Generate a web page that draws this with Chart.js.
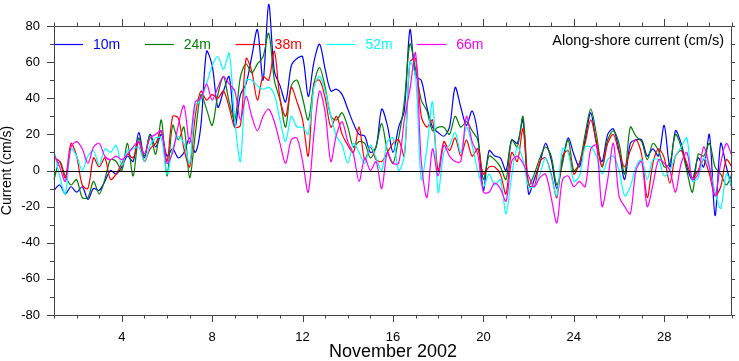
<!DOCTYPE html>
<html>
<head>
<meta charset="utf-8">
<script src="https://cdn.jsdelivr.net/npm/chart.js@4.4.1/dist/chart.umd.min.js"></script>
<style>
  html, body { margin: 0; padding: 0; background: #fff; }
  canvas { display: block; }
</style>
</head>
<body>
<canvas id="current" width="739" height="361"></canvas>
<script>
// time axis: 6-hourly samples, November 1 to December 1 (day of month)
var startDay = 1;
var stepDay = 0.25;

var seriesNames = ['10m', '24m', '38m', '52m', '66m'];
var seriesColors = ['#0000ff', '#008000', '#ff0000', '#00ffff', '#ff00ff'];

var xTickLabels = [4, 8, 12, 16, 20, 24, 28];
var yTickLabels = [-80, -60, -40, -20, 0, 20, 40, 60, 80];

// along-shore current, cm/s
var v10 = [
  -11, -8, -13, -9,   -12, -9, -16, -10,  -11, -6, 0, -2,    2, 8, 5, 21,
  7, 20, 13, 20,      8, 12, 7, 10,       18, 10, 25, 66,    58, 35, 44, 52,
  24, 42, 48, 63,     78, 50, 92, 55,     47, 38, 58, 62,    63, 41, 60, 70,
  56, 44, 45, 42,     34, 26, 20, 19,     10, 13, 34, 25,    10, 24, 33, 78,
  52, 50, 35, 24,     21, 19, 24, 46,     35, 25, 33, 20,    -11, 11, 8, 7,
  0, 17, 15, 28,      -13, -5, 4, 15,     6, -10, 5, 18,     9, 2, 17, 32,
  15, 5, 20, 23,      11, -5, 15, 17,     17, 8, 12, 8,      25, 2, 22, 15,
  2, -5, 7, 2,        20, -25, 15, 2,     -10
];
var v24 = [
  -5, 5, -3, -8,      -5, -15, -15, -6,   -13, -5, 6, 5,     0, 15, -3, 18,
  8, 20, 9, 28,       -3, 25, 17, 24,     -4, 20, 42, 34,    25, 42, 52, 38,
  28, 52, 59, 54,     59, 63, 76, 50,     39, 24, 47, 50,    40, 28, 48, 57,
  46, 30, 28, 32,     24, 13, 16, 15,     7, 13, 26, 11,     4, 18, 38, 70,
  56, 39, 33, 22,     24, 24, 20, 30,     24, 27, 22, 17,    -5, 8, 6, 2,
  -5, 17, 13, 30,     -8, -2, 7, 13,      8, -8, 4, 17,      0, 4, 20, 34,
  20, 2, 17, 22,      15, -2, 24, 19,     16, 6, 15, 11,     2, 4, 20, 13,
  0, -12, 9, 8,       15, 2, -2, -8,      -2
];
var v38 = [
  7, 5, -4, 15,       8, -8, -10, 7,      2, 7, -5, -2,      4, 9, 7, 16,
  5, 12, 15, 22,      5, 30, 29, 12,      2, 30, 44, 39,     42, 40, 44, 35,
  24, 25, 62, 55,     39, 52, 50, 66,     40, 30, 46, 38,    28, 8, 48, 50,
  40, 24, 30, 20,     14, 10, 24, 6,      13, 6, 5, 10,      15, 17, 8, 60,
  62, 30, 24, 28,     0, 16, 11, 18,      8, 17, 8, 12,      -2, 2, 2, -2,
  -13, 10, 5, 23,     -8, -9, 5, 7,       -2, -15, 8, 11,    -2, 4, 15, 28,
  16, 2, 15, 20,      10, 2, 11, 17,      9, -15, 4, 12,     7, -7, 8, 11,
  4, -4, 0, 6,        -2, -14, -9, 6,     2
];
var v52 = [
  11, -3, -13, 12,    8, 0, 8, 11,        3, 12, 10, 14,     3, 11, 12, 13,
  5, 14, 18, 18,      -2, 12, 19, 15,     4, 36, 39, 48,     58, 63, 56, 65,
  28, 5, 50, 50,      47, 45, 46, 42,     28, 16, 30, 24,    24, 20, 46, 52,
  44, 30, 19, 14,     4, 15, 10, 4,       14, 7, 0, 16,      18, 0, 8, 60,
  52, -5, 12, 38,     -12, 10, 14, 21,    10, 24, 14, 0,     -9, -2, -8, -5,
  -24, -3, 13, 6,     -9, -9, -2, 7,      -3, -14, 12, 10,   -6, -3, 13, 13,
  8, -2, 6, 8,        0, -14, -9, 2,      6, -5, 6, 6,       -3, 0, 8, 13,
  18, -6, -4, 7,      2, -12, -21, -2,    -9
];
var v66 = [
  9, 2, -6, 13,       16, 12, 4, 13,      15, 8, 6, 8,       6, 9, 13, 16,
  9, 18, 20, 22,      4, 10, 25, 36,      15, 38, 40, 48,    39, 46, 52, 48,
  44, 28, 41, 30,     22, 30, 34, 27,     15, 4, 17, 18,     5, -12, 20, 44,
  32, 5, 20, 27,      16, 9, -6, 7,       0, 5, -10, 10,     4, 4, 28, 45,
  65, 5, -15, 12,     -3, 14, 8, 5,       5, 30, 16, 9,      -12, -12, -7, -10,
  -17, 5, 8, 4,       -3, -9, -4, -2,     -15, -29, -5, -3,  -9, -6, -9, 12,
  14, -20, -5, 15,    -14, -20, -24, 0,   5, -20, -8, 6,     4, 0, -12, 4,
  10, -5, -2, 13,     2, -14, 4, 15,      8
];

var seriesValues = [v10, v24, v38, v52, v66];

var days = v10.map(function(_, i) { return startDay + i * stepDay; });

var FONT = "'Liberation Sans', Arial, Helvetica, sans-serif";

var decor = {
  id: 'decor',
  beforeDatasetsDraw: function(chart) {
    // legend across the top of the plot
    var ctx = chart.ctx, a = chart.chartArea;
    ctx.save();
    ctx.font = '14px ' + FONT;
    ctx.textBaseline = 'middle';
    ctx.textAlign = 'left';
    var ly = a.top + 18.5;
    for (var i = 0; i < seriesNames.length; i++) {
      var lx = a.left + i * 90.8;
      ctx.strokeStyle = seriesColors[i];
      ctx.lineWidth = 1.2;
      ctx.beginPath();
      ctx.moveTo(lx, ly);
      ctx.lineTo(lx + 29, ly);
      ctx.stroke();
      ctx.fillStyle = seriesColors[i];
      ctx.fillText(seriesNames[i], lx + 39, ly + 0.5);
    }
    ctx.fillStyle = '#000';
    ctx.textAlign = 'right';
    ctx.font = '14.5px ' + FONT;
    ctx.fillText('Along-shore current (cm/s)', a.right - 8, a.top + 15);
    ctx.restore();
  },
  afterDatasetsDraw: function(chart) {
    var ctx = chart.ctx, a = chart.chartArea;
    var x = chart.scales.x, y = chart.scales.y;
    ctx.save();

    // zero line
    var y0 = Math.round(y.getPixelForValue(0)) + 0.5;
    ctx.strokeStyle = '#000';
    ctx.lineWidth = 1;
    ctx.beginPath();
    ctx.moveTo(a.left, y0);
    ctx.lineTo(a.right, y0);
    ctx.stroke();

    // frame
    ctx.strokeStyle = '#444';
    ctx.beginPath();
    ctx.rect(a.left + 0.5, a.top + 0.5, a.right - a.left - 1, a.bottom - a.top);
    ctx.stroke();

    // x tick marks, bottom and top, outward
    ctx.beginPath();
    for (var d = x.min; d <= x.max; d++) {
      var px = Math.round(x.getPixelForValue(d)) + 0.5;
      var major = xTickLabels.indexOf(d) >= 0;
      ctx.moveTo(px, a.bottom);
      ctx.lineTo(px, a.bottom + (major ? 7 : 3.5));
      ctx.moveTo(px, a.top);
      ctx.lineTo(px, a.top - (major ? 7 : 3.5));
    }
    // y tick marks, left and right, outward
    for (var v = y.min; v <= y.max; v += 10) {
      var py = Math.round(y.getPixelForValue(v)) + 0.5;
      var maj = yTickLabels.indexOf(v) >= 0;
      ctx.moveTo(a.left, py);
      ctx.lineTo(a.left - (maj ? 7 : 4), py);
      ctx.moveTo(a.right, py);
      ctx.lineTo(a.right + 3, py);
    }
    ctx.stroke();
    ctx.restore();
  }
};

var datasets = seriesNames.map(function(name, i) {
  return {
    label: name,
    data: seriesValues[i].map(function(val, j) { return { x: days[j], y: val }; }),
    borderColor: seriesColors[i],
    borderWidth: 1.2,
    pointRadius: 0,
    tension: 0.3,
    fill: false,
    clip: false,
    order: seriesNames.length - 1 - i
  };
});

new Chart(document.getElementById('current'), {
  type: 'line',
  data: { datasets: datasets },
  options: {
    responsive: false,
    animation: false,
    devicePixelRatio: 1,
    layout: { padding: { top: 26, right: 7, left: 0, bottom: 0 } },
    plugins: {
      legend: { display: false },
      tooltip: { enabled: false }
    },
    scales: {
      x: {
        type: 'linear',
        min: 1,
        max: 31,
        afterBuildTicks: function(s) { s.ticks = xTickLabels.map(function(v) { return { value: v }; }); },
        afterFit: function(s) { s.height = 46; },
        grid: { display: false, drawTicks: false },
        border: { display: false },
        ticks: {
          autoSkip: false,
          maxRotation: 0,
          padding: 15,
          color: '#000',
          font: { family: FONT, size: 13 }
        },
        title: {
          display: true,
          text: 'November 2002',
          color: '#000',
          padding: 0,
          font: { family: FONT, size: 18, lineHeight: 1 }
        }
      },
      y: {
        min: -80,
        max: 80,
        afterBuildTicks: function(s) { s.ticks = yTickLabels.map(function(v) { return { value: v }; }); },
        afterFit: function(s) { s.width = 54; },
        grid: { display: false, drawTicks: false },
        border: { display: false },
        ticks: {
          padding: 14,
          color: '#000',
          font: { family: FONT, size: 13 }
        },
        title: {
          display: true,
          text: 'Current (cm/s)',
          color: '#000',
          padding: 0,
          font: { family: FONT, size: 14, lineHeight: 1 }
        }
      }
    }
  },
  plugins: [decor]
});
</script>
</body>
</html>
